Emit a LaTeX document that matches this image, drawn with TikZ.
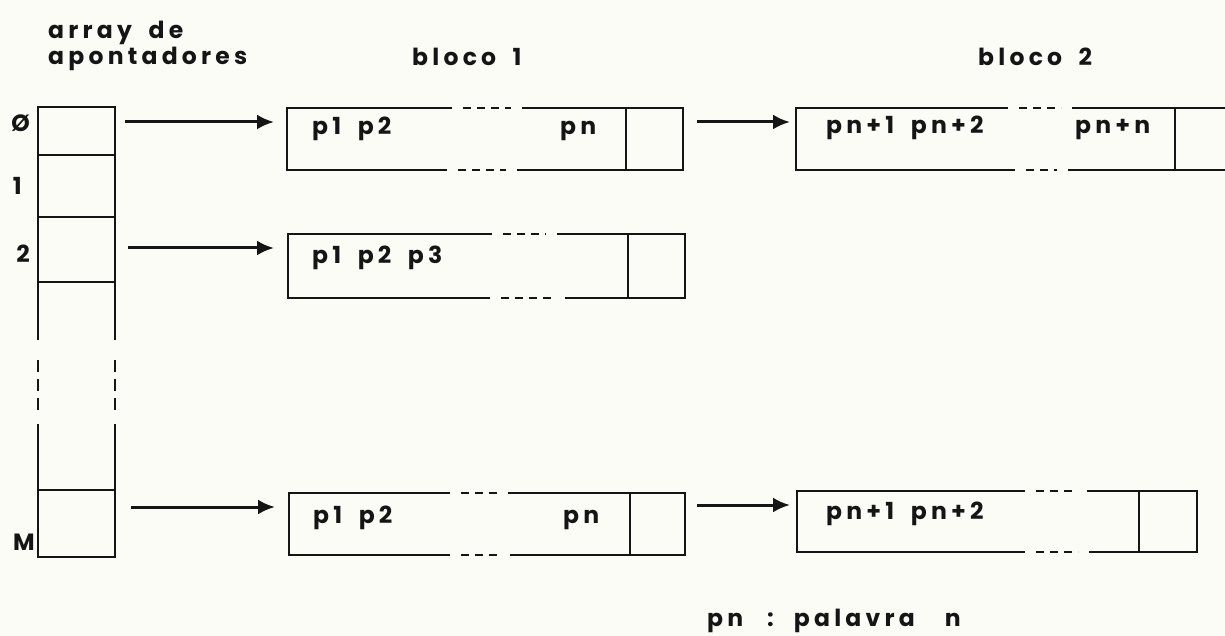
\documentclass[tikz,border=0pt]{standalone}
\usepackage{fontspec}
\setmainfont{Poppins}[LetterSpace=18, WordSpace=1.8]
\usetikzlibrary{arrows.meta}
\definecolor{papel}{HTML}{FCFCF7}
\definecolor{tinta}{HTML}{151515}

% contorno de um bloco: #1 no, #2 divisoria, #3-#4 falha em cima, #5-#6 falha em baixo
\newcommand{\contorno}[6]{%
  \draw[traco] ([xshift=#3pt]#1.north west) -- (#1.north west) -- (#1.south west) -- ([xshift=#5pt]#1.south west);
  \draw[traco] ([xshift=#4pt]#1.north west) -- (#1.north east) -- (#1.south east) -- ([xshift=#6pt]#1.south west);
  \draw[traco] ([xshift=#2pt]#1.north west) -- ([xshift=#2pt]#1.south west);
  \draw[reticencia] ([xshift={#3pt+11pt}]#1.north west) -- ([xshift={#4pt-11pt}]#1.north west);
  \draw[reticencia] ([xshift={#5pt+11pt}]#1.south west) -- ([xshift={#6pt-11pt}]#1.south west);
}

\begin{document}
\begin{tikzpicture}[
  x=1pt, y=-1pt,
  font=\fontsize{23.5}{25}\selectfont\bfseries, text=tinta,
  traco/.style={line width=2.5pt, draw=tinta},
  reticencia/.style={line width=2.5pt, draw=tinta, dash pattern=on 8pt off 6pt},
  seta/.style={line width=3pt, draw=tinta, -{Latex[length=17pt,width=15pt]}},
  celula/.style={rectangle, draw=tinta, line width=2.5pt, minimum width=77pt,
                 inner sep=0pt, outer sep=0pt},
  bloco/.style={rectangle, minimum height=62pt, inner sep=0pt, outer sep=0pt},
  palavra/.style={anchor=base west, inner sep=0pt},
  indice/.style={anchor=base east, inner sep=0pt},
  titulo/.style={anchor=base west, inner sep=0pt}
]
\clip (0,0) rectangle (1225,636);
\fill[papel] (0,0) rectangle (1225,636);

% titulos
\node[titulo] (tarray) at (48,39) {array de};
\node[titulo] (tapont) at (48,65) {apontadores};
\node[titulo] (tb1) at (412,66) {bloco 1};
\node[titulo] (tb2) at (978,66) {bloco 2};

% array de apontadores
\node[celula, minimum height=48pt] (c0) at (76.5,131) {};
\node[celula, minimum height=62pt] (c1) at (76.5,186) {};
\node[celula, minimum height=65pt] (c2) at (76.5,249.5) {};
\node[celula, minimum height=67pt] (cM) at (76.5,523.5) {};
\coordinate (q1) at (0,340);
\coordinate (q2) at (0,424);
\foreach \lado in {west,east} {
  \draw[traco] (c2.south \lado) -- (c2.south \lado |- q1);
  \draw[traco, dash pattern=on 12pt off 7pt] ([yshift=-20pt]c2.south \lado |- q1) -- ([yshift=14pt]c2.south \lado |- q2);
  \draw[traco] (c2.south \lado |- q2) -- (cM.north \lado);
}
\node[indice] (i0) at (30,132) {Ø};
\node[indice] (i1) at (22,195) {1};
\node[indice] (i2) at (30,262) {2};
\node[indice] (iM) at (35,550) {M};

% blocos
\node[bloco, minimum width=396pt] (b10) at (485,139) {};
\node[bloco, minimum width=397pt, minimum height=64pt] (b12) at (486.5,266) {};
\node[bloco, minimum width=396pt] (b1M) at (487,524) {};
\node[bloco, minimum width=444pt] (b20) at (1018,139) {};
\node[bloco, minimum width=400pt, minimum height=61pt] (b2M) at (997,521.5) {};
\contorno{b10}{339}{165}{235}{160}{230}
\contorno{b12}{340}{204}{269}{202}{277}
\contorno{b1M}{341}{161}{219}{161}{221}
\contorno{b20}{379}{212}{276}{219}{272}
\contorno{b2M}{342}{228}{290}{228}{292}

% palavras
\node[palavra] (w10a) at ([xshift=25pt,yshift=-27pt]b10.north west) {p1 p2};
\node[palavra] (w10n) at ([xshift=273pt,yshift=-27pt]b10.north west) {pn};
\node[palavra] (w12a) at ([xshift=24pt,yshift=-29pt]b12.north west) {p1 p2 p3};
\node[palavra] (w1Ma) at ([xshift=24pt,yshift=-30pt]b1M.north west) {p1 p2};
\node[palavra] (w1Mn) at ([xshift=274pt,yshift=-30pt]b1M.north west) {pn};
\node[palavra] (w20a) at ([xshift=30pt,yshift=-26pt]b20.north west) {pn+1 pn+2};
\node[palavra] (w20n) at ([xshift=279pt,yshift=-26pt]b20.north west) {pn+n};
\node[palavra] (w2Ma) at ([xshift=29pt,yshift=-28pt]b2M.north west) {pn+1 pn+2};

% pontos de chegada das setas
\coordinate (e10) at ([yshift=-14pt]b10.north west);
\coordinate (e12) at ([yshift=-14pt]b12.north west);
\coordinate (e1M) at ([yshift=-14pt]b1M.north west);
\coordinate (e20) at ([yshift=-14pt]b20.north west);
\coordinate (e2M) at ([yshift=-14pt]b2M.north west);

% setas
\draw[seta, shorten <=10pt, shorten >=13pt] (c0.east |- e10) -- (e10);
\draw[seta, shorten <=13pt, shorten >=14pt] (c2.east |- e12) -- (e12);
\draw[seta, shorten <=16pt, shorten >=14pt] (cM.east |- e1M) -- (e1M);
\draw[seta, shorten <=14pt, shorten >=6pt] (b10.east |- e20) -- (e20);
\draw[seta, shorten <=12pt, shorten >=7pt] (b1M.east |- e2M) -- (e2M);

% legenda
\node[titulo] (leg) at (707,626) {pn\hspace{24pt}:\hspace{20pt}palavra\hspace{30pt}n};
\end{tikzpicture}
\end{document}
